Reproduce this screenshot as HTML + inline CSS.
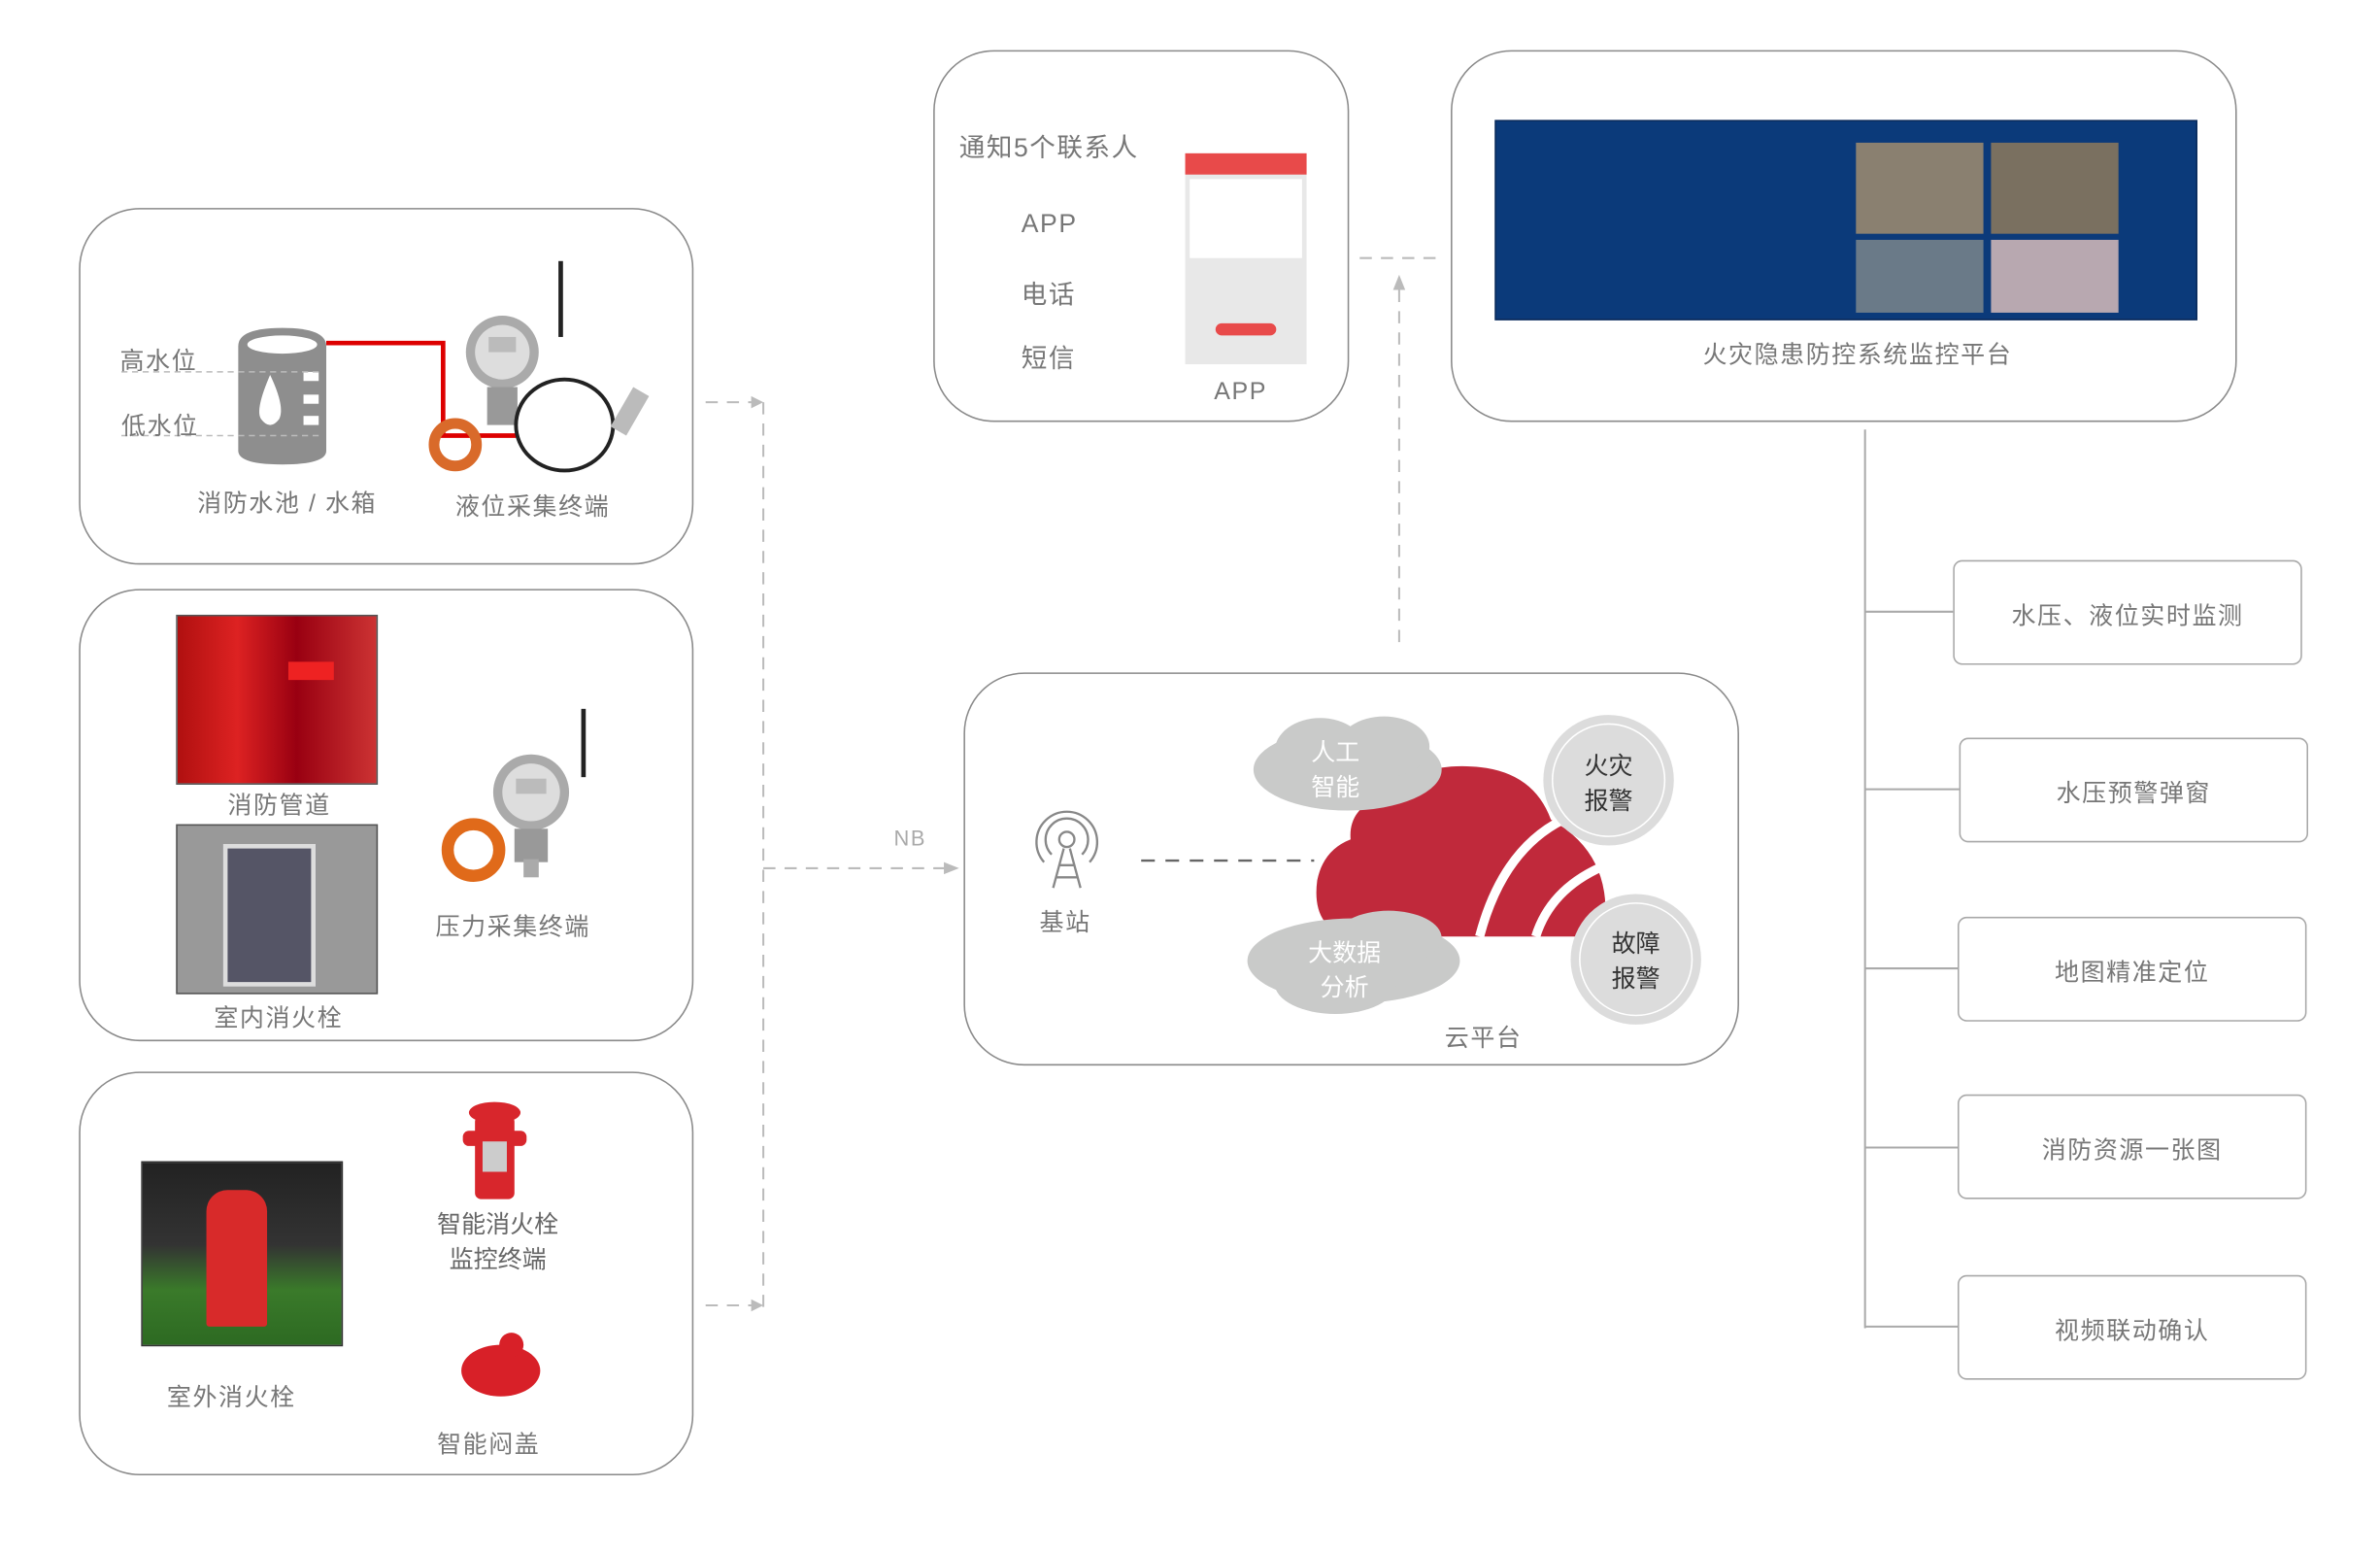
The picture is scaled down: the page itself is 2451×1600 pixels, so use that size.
<!DOCTYPE html>
<html><head><meta charset="utf-8"><style>
html,body{margin:0;padding:0;background:#fff;overflow:hidden}
#wrap{position:relative;width:2451px;height:1600px;overflow:hidden}
#s{position:absolute;left:0;top:0;width:1570px;height:1025px;transform:scale(1.5628);transform-origin:0 0;font-family:"Liberation Sans","Noto Sans CJK SC",sans-serif;color:#777}
.b{position:absolute;border:1.3px solid #8a8a8a;border-radius:40px;box-sizing:border-box}
.r{position:absolute;border:1px solid #a8a8a8;border-radius:6px;box-sizing:border-box;font-size:16px;color:#777;display:flex;align-items:center;justify-content:center;letter-spacing:1px}
.t{position:absolute;font-size:16px;color:#777;white-space:nowrap;letter-spacing:1px}
.c{position:absolute;text-align:center;color:#666;font-size:16px;line-height:23px}
</style></head><body><div id="wrap"><div id="s">
<svg width="1570" height="1025" style="position:absolute;left:0;top:0">
<g stroke="#bbb" stroke-width="1.3" fill="none" stroke-dasharray="8 6">
<line x1="503" y1="265" x2="503" y2="862"/>
<line x1="465" y1="265" x2="497" y2="265"/>
<line x1="465" y1="860" x2="497" y2="860"/>
<line x1="503" y1="572" x2="627" y2="572"/>
<line x1="922" y1="423" x2="922" y2="190"/>
<line x1="896" y1="170" x2="950" y2="170"/>
</g>
<g fill="#bbb"><polygon points="503,265 495,261 495,269"/><polygon points="503,860 495,856 495,864"/><polygon points="632,572 622,568 622,576"/><polygon points="922,181 918,191 926,191"/></g>
<line x1="752" y1="567" x2="866" y2="567" stroke="#666" stroke-width="1.5" stroke-dasharray="9 7"/>
<g stroke="#aaa" stroke-width="1.3"><line x1="1229" y1="283" x2="1229" y2="875"/>
<line x1="1229" y1="403" x2="1287" y2="403"/><line x1="1229" y1="520" x2="1291" y2="520"/><line x1="1229" y1="638" x2="1290" y2="638"/><line x1="1229" y1="756" x2="1290" y2="756"/><line x1="1229" y1="874" x2="1290" y2="874"/></g>
<path d="M157 228 Q157 216 186 216 Q215 216 215 228 L215 297 Q215 306 186 306 Q157 306 157 297Z" fill="#8e8e8e"/>
<ellipse cx="186" cy="227" rx="23" ry="6" fill="#fff"/>
<path d="M178 247 Q168 270 172 276 Q178 284 184 276 Q188 268 178 247Z" fill="#fff"/>
<rect x="200" y="245" width="10" height="6" fill="#fff"/><rect x="200" y="260" width="10" height="6" fill="#fff"/><rect x="200" y="274" width="10" height="6" fill="#fff"/>
<line x1="80" y1="245" x2="210" y2="245" stroke="#bbb" stroke-dasharray="4 3"/>
<line x1="80" y1="287" x2="210" y2="287" stroke="#bbb" stroke-dasharray="4 3"/>
<polyline points="215,226 292,226 292,287 340,287" fill="none" stroke="#d00" stroke-width="3"/>
<circle cx="300" cy="293" r="14" fill="none" stroke="#d96a2a" stroke-width="7"/>
<rect x="368" y="172" width="3" height="50" fill="#222"/>
<circle cx="331" cy="232" r="24" fill="#aaa"/><circle cx="331" cy="232" r="18" fill="#ddd"/><rect x="322" y="222" width="18" height="10" fill="#bbb"/>
<rect x="321" y="255" width="20" height="25" fill="#999"/>
<ellipse cx="372" cy="280" rx="32" ry="30" fill="none" stroke="#222" stroke-width="2.5"/>
<rect x="400" y="265" width="30" height="12" fill="#bbb" transform="rotate(-60 415 271)"/>
<circle cx="312" cy="560" r="17" fill="none" stroke="#e06a1a" stroke-width="8"/>
<rect x="383" y="467" width="3" height="45" fill="#222"/>
<circle cx="350" cy="522" r="25" fill="#aaa"/><circle cx="350" cy="522" r="19" fill="#ddd"/><rect x="340" y="513" width="20" height="10" fill="#bbb"/>
<rect x="339" y="546" width="22" height="22" fill="#999"/><rect x="345" y="566" width="10" height="12" fill="#aaa"/>
<rect x="313" y="735" width="26" height="55" rx="4" fill="#d8262c"/><ellipse cx="326" cy="733" rx="17" ry="7" fill="#d8262c"/><rect x="305" y="745" width="42" height="10" rx="4" fill="#d8262c"/><rect x="318" y="752" width="16" height="20" fill="#ccc"/>
<ellipse cx="330" cy="903" rx="26" ry="17" fill="#d82028"/><circle cx="337" cy="886" r="8" fill="#d82028"/>
<g stroke="#888" stroke-width="1.5" fill="none"><circle cx="703" cy="553" r="5"/><path d="M693 563 A14 14 0 1 1 713 563"/><path d="M688 568 A20 20 0 1 1 718 568"/><path d="M701 559 L694 585 M705 559 L712 585 M698 570 L708 570 M696 578 L710 578"/></g>
<path d="M888 617 Q864 610 868 580 Q872 560 890 553 Q888 530 918 522 Q935 503 970 505 Q1010 507 1022 540 Q1058 560 1058 600 L1058 617Z" fill="#c0293b"/>
<path d="M975 617 Q990 560 1030 540" stroke="#fff" stroke-width="6" fill="none"/>
<path d="M1012 617 Q1022 585 1058 570" stroke="#fff" stroke-width="6" fill="none"/>
<g fill="#c9cac9"><ellipse cx="888" cy="507" rx="62" ry="27"/><ellipse cx="870" cy="495" rx="30" ry="22"/><ellipse cx="912" cy="492" rx="30" ry="20"/>
<ellipse cx="892" cy="633" rx="70" ry="28"/><ellipse cx="880" cy="648" rx="40" ry="20"/><ellipse cx="915" cy="618" rx="35" ry="18"/></g>
<circle cx="1060" cy="514" r="43" fill="#dcdcdc"/><circle cx="1060" cy="514" r="37" fill="none" stroke="#fff"/>
<circle cx="1078" cy="632" r="43" fill="#dcdcdc"/><circle cx="1078" cy="632" r="37" fill="none" stroke="#fff"/>
</svg>
<div class="b" style="left:52px;top:137px;width:405px;height:235px"></div>
<div class="b" style="left:52px;top:388px;width:405px;height:298px"></div>
<div class="b" style="left:52px;top:706px;width:405px;height:266px"></div>
<div class="b" style="left:615px;top:33px;width:274px;height:245px"></div>
<div class="b" style="left:956px;top:33px;width:518px;height:245px"></div>
<div class="b" style="left:635px;top:443px;width:511px;height:259px"></div>
<div class="t" style="left:79px;top:224px">高水位</div>
<div class="t" style="left:80px;top:267px">低水位</div>
<div class="t" style="left:130px;top:318px">消防水池 / 水箱</div>
<div class="t" style="left:300px;top:320px">液位采集终端</div>
<div style="position:absolute;left:116px;top:405px;width:131px;height:110px;background:linear-gradient(90deg,#b01010,#d22,#901 60%,#c33);border:1px solid #555"></div>
<div style="position:absolute;left:190px;top:436px;width:30px;height:12px;background:#e22"></div>
<div class="t" style="left:150px;top:517px">消防管道</div>
<div style="position:absolute;left:116px;top:543px;width:131px;height:110px;background:#999;border:1px solid #555"><div style="position:absolute;left:30px;top:12px;width:55px;height:88px;background:#556;border:3px solid #ddd"></div></div>
<div class="t" style="left:141px;top:657px">室内消火栓</div>
<div class="t" style="left:287px;top:597px">压力采集终端</div>
<div style="position:absolute;left:93px;top:765px;width:131px;height:120px;background:linear-gradient(180deg,#222 0%,#333 45%,#3a7a2a 70%,#2d6a22);border:1px solid #333"><div style="position:absolute;left:42px;top:18px;width:40px;height:90px;background:#d82a2a;border-radius:14px 14px 2px 2px"></div></div>
<div class="t" style="left:110px;top:907px">室外消火栓</div>
<div class="c" style="left:280px;top:796px;width:96px">智能消火栓<br>监控终端</div>
<div class="t" style="left:288px;top:938px">智能闷盖</div>
<div class="t" style="left:589px;top:544px;color:#aaa;font-size:14px">NB</div>
<div class="t" style="left:632px;top:83px;font-size:17px">通知5个联系人</div>
<div class="t" style="left:673px;top:138px;font-size:17px">APP</div>
<div class="t" style="left:673px;top:180px;font-size:17px">电话</div>
<div class="t" style="left:673px;top:222px;font-size:17px">短信</div>
<div class="t" style="left:800px;top:250px;font-size:16px">APP</div>
<div style="position:absolute;left:781px;top:101px;width:80px;height:139px;background:#e8e8e8"><div style="height:14px;background:#e84a4a"></div><div style="margin:3px;height:52px;background:#fff"></div><div style="position:absolute;left:20px;top:112px;width:40px;height:8px;border-radius:4px;background:#e84a4a"></div></div>
<div style="position:absolute;left:985px;top:79px;width:461px;height:130px;background:#0b3a7a;border:1px solid #0a2a5a"><div style="position:absolute;left:237px;top:14px;width:84px;height:60px;background:#8a8070"></div><div style="position:absolute;left:326px;top:14px;width:84px;height:60px;background:#7a7060"></div><div style="position:absolute;left:237px;top:78px;width:84px;height:48px;background:#6a7a88"></div><div style="position:absolute;left:326px;top:78px;width:84px;height:48px;background:#b8a8b0"></div></div>
<div class="t" style="left:1122px;top:220px">火灾隐患防控系统监控平台</div>
<div class="t" style="left:685px;top:594px">基站</div>
<div class="c" style="left:848px;top:485px;width:64px;color:#fff;font-size:16px">人工<br>智能</div>
<div class="c" style="left:850px;top:617px;width:72px;color:#fff;font-size:16px">大数据<br>分析</div>
<div class="c" style="left:1028px;top:494px;width:64px;color:#333">火灾<br>报警</div>
<div class="c" style="left:1046px;top:611px;width:64px;color:#333">故障<br>报警</div>
<div class="t" style="left:952px;top:670px">云平台</div>
<div class="r" style="left:1287px;top:369px;width:230px;height:69px">水压、液位实时监测</div>
<div class="r" style="left:1291px;top:486px;width:230px;height:69px">水压预警弹窗</div>
<div class="r" style="left:1290px;top:604px;width:230px;height:69px">地图精准定位</div>
<div class="r" style="left:1290px;top:721px;width:230px;height:69px">消防资源一张图</div>
<div class="r" style="left:1290px;top:840px;width:230px;height:69px">视频联动确认</div>
</div></div></body></html>
